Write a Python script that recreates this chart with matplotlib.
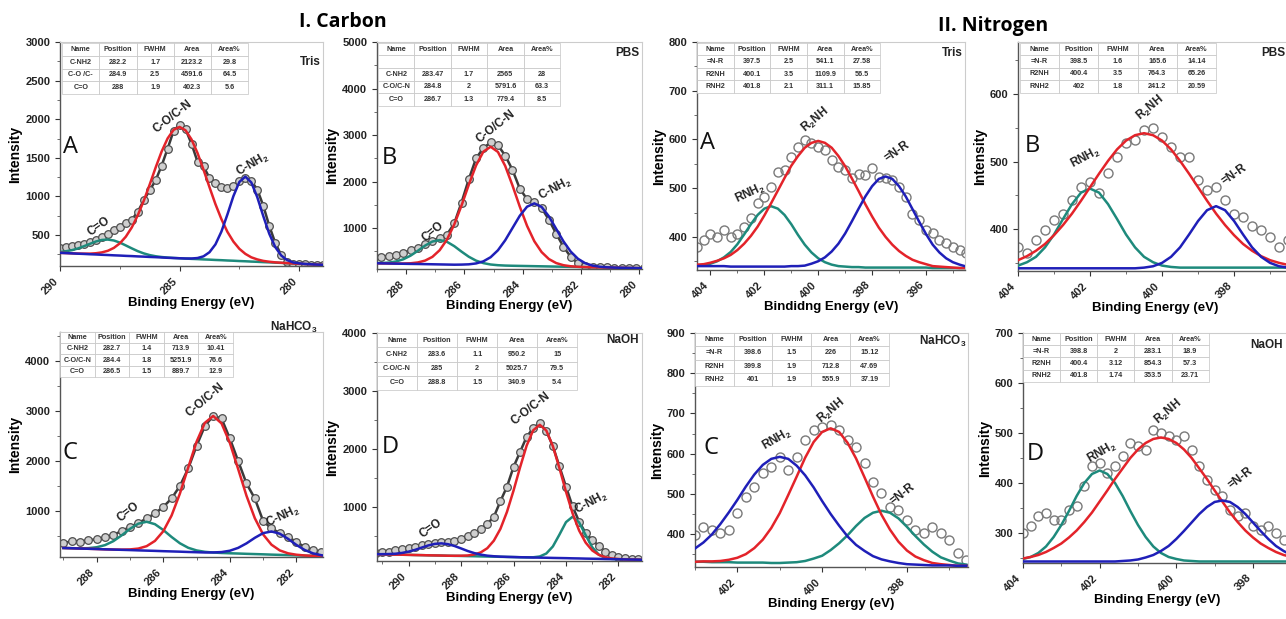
import numpy as np
import matplotlib.pyplot as plt
from matplotlib.ticker import MultipleLocator

plt.rcParams['font.family'] = ['Liberation Sans', 'DejaVu Sans']
plt.rcParams['font.weight'] = 'bold'
plt.rcParams['mathtext.fontset'] = 'custom'
plt.rcParams['mathtext.rm'] = 'Liberation Sans:bold'
plt.rcParams['mathtext.it'] = 'Liberation Sans:bold'
plt.rcParams['mathtext.bf'] = 'Liberation Sans:bold'
plt.rcParams['mathtext.default'] = 'rm'

RED = '#e3232a'
BLUE = '#1f1fb8'
TEAL = '#1e8a7c'

table_cols = ["Name", "Position", "FWHM", "Area", "Area%"]

# ---------------- I. Carbon, A (Tris) ----------------
ca_e0, ca_de = 290.0, 0.25
ca_data = [330, 345, 360, 372, 385, 410, 440, 470, 520, 560, 610, 660, 700, 800, 950,
           1080, 1210, 1400, 1620, 1850, 1930, 1870, 1680, 1450, 1390, 1240, 1180, 1120,
           1110, 1130, 1200, 1240, 1200, 1090, 880, 620, 400, 240, 150, 130, 125, 120, 115,
           112, 110]
ca_red = [270, 267, 264, 261, 260, 260, 265, 276, 297, 334, 393, 479, 599, 755, 943,
          1155, 1376, 1583, 1752, 1863, 1900, 1856, 1738, 1562, 1347, 1120, 900, 706,
          542, 416, 322, 257, 212, 185, 166, 155, 147, 142, 137, 132, 129, 125, 122, 118, 115]
ca_blue = [270, 267, 263, 259, 256, 252, 249, 245, 242, 238, 235, 231, 228, 224, 221,
           217, 214, 210, 206, 203, 200, 197, 197, 203, 225, 278, 380, 546, 767, 1004,
           1188, 1257, 1181, 990, 746, 518, 345, 236, 176, 146, 134, 126, 122, 118, 115]
ca_teal = [282, 291, 305, 327, 356, 387, 417, 437, 442, 430, 403, 366, 328, 292, 263,
           241, 226, 216, 209, 204, 200, 196, 192, 189, 185, 182, 178, 175, 171, 168,
           164, 161, 157, 154, 150, 147, 143, 140, 136, 132, 129, 125, 122, 118, 115]
ca_table = [["C-NH2", "282.2", "1.7", "2123.2", "29.8"],
            ["C-O /C-", "284.9", "2.5", "4591.6", "64.5"],
            ["C=O", "288", "1.9", "402.3", "5.6"]]

# ---------------- I. Carbon, B (PBS) ----------------
cb_e0, cb_de = 289.1, 0.25
cb_data = [370, 375, 400, 430, 470, 520, 580, 650, 730, 790, 860, 1100, 1550, 2050, 2500,
           2720, 2840, 2780, 2560, 2250, 1850, 1620, 1570, 1430, 1180, 880, 600, 380, 240,
           190, 170, 160, 155, 150, 148, 145, 142, 140]
cb_red = [245, 242, 239, 237, 238, 243, 261, 301, 381, 525, 752, 1077, 1485, 1933, 2348,
          2643, 2748, 2637, 2336, 1916, 1462, 1048, 717, 484, 334, 248, 202, 179, 168,
          161, 157, 155, 152, 149, 146, 143, 140, 137]
cb_blue = [245, 242, 239, 236, 233, 230, 228, 225, 222, 219, 216, 213, 215, 221, 240,
           285, 374, 523, 738, 1001, 1264, 1460, 1531, 1454, 1252, 983, 715, 494, 339,
           244, 193, 169, 157, 150, 146, 143, 140, 137]
cb_teal = [247, 249, 258, 282, 329, 407, 512, 624, 711, 742, 705, 612, 494, 384, 300,
           247, 217, 202, 194, 190, 187, 184, 181, 178, 175, 172, 169, 166, 163, 160,
           157, 155, 152, 149, 146, 143, 140, 137]
cb_table = [["", "", "", "", ""],
            ["C-NH2", "283.47", "1.7", "2565", "28"],
            ["C-O/C-N", "284.8", "2", "5791.6", "63.3"],
            ["C=O", "286.7", "1.3", "779.4", "8.5"]]

# ---------------- I. Carbon, C (NaHCO3) ----------------
cc_e0, cc_de = 289.0, 0.25
cc_data = [350, 400, 380, 420, 430, 470, 520, 600, 680, 760, 850, 950, 1080, 1250, 1500,
           1850, 2300, 2700, 2900, 2850, 2450, 2000, 1550, 1250, 800, 650, 560, 480, 380,
           280, 220, 180, 160]
cc_red = [260, 255, 249, 244, 239, 233, 229, 227, 231, 248, 296, 401, 594, 909, 1348,
          1870, 2384, 2763, 2900, 2752, 2363, 1839, 1305, 856, 531, 326, 211, 153, 125,
          110, 102, 96, 90]
cc_blue = [260, 255, 249, 244, 239, 233, 228, 223, 218, 212, 207, 202, 196, 191, 186,
           180, 175, 170, 171, 178, 205, 262, 352, 463, 557, 590, 546, 442, 321, 219,
           152, 115, 96]
cc_teal = [260, 256, 253, 257, 275, 317, 396, 512, 642, 746, 784, 736, 620, 480, 354,
           264, 211, 183, 169, 160, 154, 149, 143, 138, 133, 127, 122, 117, 112, 106,
           101, 96, 90]
cc_table = [["C-NH2", "282.7", "1.4", "713.9", "10.41"],
            ["C-O/C-N", "284.4", "1.8", "5251.9", "76.6"],
            ["C=O", "286.5", "1.5", "889.7", "12.9"]]

# ---------------- I. Carbon, D (NaOH) ----------------
cd_e0, cd_de = 291.25, 0.25
cd_data = [215, 220, 230, 255, 270, 290, 315, 345, 365, 385, 390, 400, 420, 450, 500,
           550, 620, 710, 830, 1100, 1350, 1690, 1950, 2210, 2360, 2450, 2310, 2050, 1700,
           1350, 1010, 750, 550, 430, 330, 230, 175, 135, 120, 110, 100, 95, 90]
cd_blue = [187, 188, 190, 195, 209, 231, 262, 301, 338, 365, 374, 360, 329, 287, 243,
           207, 180, 162, 152, 145, 141, 138, 135, 133, 130, 128, 126, 123, 121, 119,
           116, 114, 111, 109, 107, 104, 102, 100, 97, 95, 93, 90, 88]
cd_red = [187, 185, 183, 180, 178, 176, 173, 171, 168, 166, 164, 161, 160, 161, 165,
          182, 218, 290, 420, 623, 916, 1283, 1685, 2059, 2323, 2418, 2319, 2049, 1671,
          1264, 892, 595, 386, 252, 176, 134, 113, 104, 98, 95, 93, 90, 88]
cd_teal = [187, 185, 183, 180, 178, 176, 173, 171, 168, 166, 164, 161, 159, 157, 154,
           152, 149, 147, 145, 142, 140, 138, 135, 133, 134, 148, 199, 321, 525, 740,
           833, 735, 515, 307, 180, 124, 106, 101, 97, 95, 93, 90, 88]
cd_table = [["C-NH2", "283.6", "1.1", "950.2", "15"],
            ["C-O/C-N", "285", "2", "5025.7", "79.5"],
            ["C=O", "288.8", "1.5", "340.9", "5.4"]]

# ---------------- II. Nitrogen, A (Tris) ----------------
na_e0, na_de = 404.5, 0.25
na_data = [380, 394, 405, 400, 414, 400, 405, 421, 438, 469, 482, 503, 534, 537, 565,
           585, 599, 592, 585, 578, 558, 544, 537, 520, 530, 527, 541, 523, 520, 517,
           503, 482, 448, 435, 414, 407, 394, 387, 380, 373, 366]
na_red = [343, 344, 347, 351, 356, 363, 373, 386, 402, 421, 444, 469, 495, 521, 546,
          566, 583, 593, 597, 593, 583, 566, 545, 520, 494, 467, 442, 419, 400, 384,
          371, 361, 353, 348, 344, 340, 339, 338, 337, 336, 336]
na_teal = [341, 342, 345, 350, 358, 369, 385, 405, 426, 445, 458, 463, 458, 445, 426,
           404, 384, 368, 356, 348, 343, 340, 339, 338, 338, 337, 337, 337, 337, 337,
           337, 337, 337, 337, 337, 336, 336, 336, 336, 336, 336]
na_blue = [340, 340, 340, 340, 340, 339, 339, 339, 339, 339, 339, 339, 339, 339, 340,
           340, 341, 345, 350, 358, 370, 386, 407, 432, 458, 483, 504, 519, 524, 519,
           504, 483, 457, 431, 406, 384, 368, 356, 348, 343, 339]
na_table = [["=N-R", "397.5", "2.5", "541.1", "27.58"],
            ["R2NH", "400.1", "3.5", "1109.9", "56.5"],
            ["RNH2", "401.8", "2.1", "311.1", "15.85"]]

# ---------------- II. Nitrogen, B (PBS) ----------------
nb_e0, nb_de = 404.0, 0.25
nb_data = [374, 364, 384, 399, 413, 423, 443, 463, 470, 453, 483, 507, 527, 532, 547,
           549, 537, 522, 507, 507, 473, 458, 463, 443, 423, 418, 404, 399, 389, 374,
           384, 380]
nb_red = [354, 360, 368, 378, 391, 406, 423, 442, 462, 482, 501, 518, 531, 539, 542,
          539, 531, 518, 501, 482, 462, 442, 423, 406, 391, 378, 368, 360, 354, 350,
          347, 345]
nb_teal = [346, 351, 359, 373, 392, 415, 437, 454, 460, 454, 437, 415, 392, 373, 359,
           351, 346, 344, 343, 343, 343, 343, 343, 343, 343, 343, 343, 343, 343, 343,
           343, 343]
nb_blue = [342, 342, 342, 342, 342, 342, 342, 342, 342, 342, 342, 342, 342, 342, 343,
           345, 350, 359, 373, 392, 412, 428, 434, 428, 412, 392, 373, 359, 350, 345,
           343, 342]
nb_table = [["=N-R", "398.5", "1.6", "165.6", "14.14"],
            ["R2NH", "400.4", "3.5", "764.3", "65.26"],
            ["RNH2", "402", "1.8", "241.2", "20.59"]]

# ---------------- II. Nitrogen, C (NaHCO3) ----------------
nc_e0, nc_de = 403.0, 0.2
nc_data = [398, 418, 410, 402, 410, 452, 493, 518, 551, 567, 592, 559, 592, 634, 659,
           667, 671, 659, 634, 617, 576, 530, 501, 468, 460, 435, 410, 402, 418, 402,
           385, 352, 335]
nc_blue = [364, 379, 399, 425, 454, 485, 518, 548, 572, 587, 592, 587, 570, 546, 516,
           482, 450, 421, 394, 373, 358, 345, 337, 332, 328, 325, 324, 323, 322, 322,
           322, 321, 321]
nc_red = [331, 332, 332, 333, 336, 341, 350, 365, 386, 415, 452, 497, 543, 590, 629,
          654, 663, 654, 627, 588, 541, 493, 448, 411, 381, 359, 344, 335, 328, 325,
          323, 321, 321]
nc_teal = [331, 331, 330, 330, 330, 329, 329, 329, 329, 328, 328, 329, 330, 333, 339,
           346, 360, 377, 397, 420, 440, 453, 458, 453, 439, 418, 395, 374, 356, 342,
           334, 327, 324]
nc_table = [["=N-R", "398.6", "1.5", "226", "15.12"],
            ["R2NH", "399.8", "1.9", "712.8", "47.69"],
            ["RNH2", "401", "1.9", "555.9", "37.19"]]

# ---------------- II. Nitrogen, D (NaOH) ----------------
nd_e0, nd_de = 404.0, 0.2
nd_data = [299, 313, 333, 339, 326, 326, 346, 353, 393, 433, 439, 419, 433, 453, 479,
           473, 466, 506, 499, 493, 486, 493, 466, 433, 406, 386, 373, 346, 333, 339,
           313, 306, 313, 299, 286, 273]
nd_red = [249, 252, 256, 262, 270, 279, 291, 305, 322, 341, 363, 385, 408, 429, 450,
          467, 480, 488, 491, 488, 480, 467, 450, 429, 408, 385, 363, 341, 322, 305,
          291, 279, 270, 262, 256, 252]
nd_teal = [248, 252, 260, 273, 292, 316, 344, 374, 400, 418, 425, 418, 400, 374, 344,
           316, 292, 273, 260, 252, 248, 245, 244, 243, 243, 243, 243, 243, 243, 243,
           243, 243, 243, 243, 243, 243]
nd_blue = [243, 243, 243, 243, 243, 243, 243, 243, 243, 243, 243, 243, 243, 244, 245,
           247, 251, 256, 264, 274, 288, 304, 321, 338, 352, 362, 365, 362, 352, 338,
           321, 304, 288, 274, 264, 256]
nd_table = [["=N-R", "398.8", "2", "283.1", "18.9"],
            ["R2NH", "400.4", "3.12", "854.3", "57.3"],
            ["RNH2", "401.8", "1.74", "353.5", "23.71"]]


panels = [
    dict(rect=[0.0467, 0.5703, 0.2045, 0.3619], e0=ca_e0, de=ca_de, data=ca_data,
         red=ca_red, blue=ca_blue, teal=ca_teal, carbon=True,
         xlim=(290, 279), ylim=(100, 3000), xt=(5, 2.5), yt=(500, 250),
         letter=('A', 0.011, 0.531), sample=('Tris', 0.99, 0.912),
         peaks=[('C-O/C-N', 0.43, 0.665, 38), ('C-NH$_2$', 0.734, 0.451, 30), ('C=O', 0.148, 0.174, 35)],
         table=ca_table, tbox=[0.008, 0.768, 0.707, 0.227], xlabel='Binding Energy (eV)'),
    dict(rect=[0.2932, 0.5654, 0.2061, 0.3667], e0=cb_e0, de=cb_de, data=cb_data,
         red=cb_red, blue=cb_blue, teal=cb_teal, carbon=True,
         xlim=(289, 279.9), ylim=(120, 5000), xt=(2, 1), yt=(1000, 500),
         letter=('B', 0.018, 0.49), sample=('PBS', 0.99, 0.95),
         peaks=[('C-O/C-N', 0.448, 0.627, 38), ('C-NH$_2$', 0.672, 0.352, 28), ('C=O', 0.212, 0.164, 40)],
         table=cb_table, tbox=[0.004, 0.72, 0.686, 0.276], xlabel='Binding Energy (eV)'),
    dict(rect=[0.542, 0.5638, 0.2084, 0.3683], e0=na_e0, de=na_de, data=na_data,
         red=na_red, blue=na_blue, teal=na_teal, carbon=False,
         xlim=(404.5, 394.55), ylim=(332, 800), xt=(2, 1), yt=(100, 50),
         letter=('A', 0.011, 0.555), sample=('Tris', 0.99, 0.95),
         peaks=[('R$_2$NH', 0.44, 0.658, 40), ('=N-R', 0.747, 0.519, 35), ('RNH$_2$', 0.198, 0.336, 25)],
         table=na_table, tbox=[0.001, 0.778, 0.682, 0.218], xlabel='Bindidng Energy (eV)'),
    dict(rect=[0.7916, 0.5622, 0.2131, 0.37], e0=nb_e0, de=nb_de, data=nb_data,
         red=nb_red, blue=nb_blue, teal=nb_teal, carbon=False,
         xlim=(404, 396.39), ylim=(338, 677), xt=(2, 1), yt=(100, 50),
         letter=('B', 0.026, 0.544), sample=('PBS', 0.975, 0.95),
         peaks=[('R$_2$NH', 0.484, 0.71, 40), ('RNH$_2$', 0.247, 0.496, 28), ('=N-R', 0.788, 0.419, 35)],
         table=nb_table, tbox=[0.007, 0.779, 0.716, 0.217], xlabel='Binding Energy (eV)'),
    dict(rect=[0.0467, 0.1002, 0.2045, 0.3635], e0=cc_e0, de=cc_de, data=cc_data,
         red=cc_red, blue=cc_blue, teal=cc_teal, carbon=True,
         xlim=(289.1, 281.2), ylim=(80, 4580), xt=(2, 1), yt=(1000, 500),
         letter=('C', 0.011, 0.462), sample=('NaHCO$_3$', 0.98, 1.02),
         peaks=[('C-O/C-N', 0.551, 0.698, 40), ('C-NH$_2$', 0.849, 0.179, 25), ('C=O', 0.26, 0.199, 38)],
         table=cc_table, tbox=[0.0, 0.80, 0.658, 0.20], xlabel='Binding Energy (eV)'),
    dict(rect=[0.2932, 0.0937, 0.2061, 0.3683], e0=cd_e0, de=cd_de, data=cd_data,
         red=cd_red, blue=cd_blue, teal=cd_teal, carbon=True,
         xlim=(291.2, 281.1), ylim=(70, 4000), xt=(2, 1), yt=(1000, 500),
         letter=('D', 0.018, 0.50), sample=('NaOH', 0.986, 0.97),
         peaks=[('C-O/C-N', 0.58, 0.67, 38), ('C-NH$_2$', 0.81, 0.253, 28), ('C=O', 0.203, 0.143, 35)],
         table=cd_table, tbox=[0.0, 0.75, 0.755, 0.25], xlabel='Binding Energy (eV)'),
    dict(rect=[0.5404, 0.084, 0.2123, 0.378], e0=nc_e0, de=nc_de, data=nc_data,
         red=nc_red, blue=nc_blue, teal=nc_teal, carbon=False,
         xlim=(403, 396.56), ylim=(318, 900), xt=(2, 1), yt=(100, 50),
         letter=('C', 0.03, 0.508), sample=('NaHCO$_3$', 0.995, 0.963),
         peaks=[('R$_2$NH', 0.50, 0.668, 40), ('RNH$_2$', 0.30, 0.547, 30), ('=N-R', 0.759, 0.312, 38)],
         table=nc_table, tbox=[0.0, 0.773, 0.71, 0.227], xlabel='Binding Energy (eV)'),
    dict(rect=[0.7955, 0.0905, 0.2092, 0.3716], e0=nd_e0, de=nd_de, data=nd_data,
         red=nd_red, blue=nd_blue, teal=nd_teal, carbon=False,
         xlim=(404, 396.98), ylim=(240, 700), xt=(2, 1), yt=(100, 50),
         letter=('D', 0.013, 0.474), sample=('NaOH', 0.965, 0.948),
         peaks=[('R$_2$NH', 0.54, 0.658, 40), ('RNH$_2$', 0.293, 0.481, 30), ('=N-R', 0.81, 0.368, 38)],
         table=nd_table, tbox=[0.0, 0.788, 0.69, 0.212], xlabel='Binding Energy (eV)'),
]

fig = plt.figure(figsize=(12.86, 6.19), dpi=100)

for p in panels:
    ax = fig.add_axes(p['rect'])
    x = p['e0'] - p['de'] * np.arange(len(p['data']))

    # measured spectrum
    if p['carbon']:
        ax.plot(x, p['data'], color='#3a3a3a', lw=1.8, zorder=2)
        ax.plot(x, p['data'], 'o', ms=5.5, mfc='#cfcfcf', mec='#4e4e4e', mew=0.9, zorder=2)
    else:
        ax.plot(x, p['data'], 'o', ms=6.5, mfc='none', mec='#7a7a7a', mew=1.0, zorder=2)

    # fitted components
    ax.plot(x, p['teal'], color=TEAL, lw=1.8, zorder=3)
    ax.plot(x, p['red'], color=RED, lw=1.8, zorder=3)
    ax.plot(x, p['blue'], color=BLUE, lw=1.8, zorder=3)

    ax.set_xlim(*p['xlim'])
    ax.set_ylim(*p['ylim'])
    ax.xaxis.set_major_locator(MultipleLocator(p['xt'][0]))
    ax.xaxis.set_minor_locator(MultipleLocator(p['xt'][1]))
    ax.yaxis.set_major_locator(MultipleLocator(p['yt'][0]))
    ax.yaxis.set_minor_locator(MultipleLocator(p['yt'][1]))
    ax.tick_params(which='major', direction='out', length=3.5, width=0.8, labelsize=8,
                   colors='#333333', labelcolor='#222222')
    ax.tick_params(which='minor', direction='out', length=2, width=0.6, colors='#555555')
    for lab in ax.get_xticklabels():
        lab.set_rotation(45)
        lab.set_ha('right')
        lab.set_va('top')
        lab.set_fontweight('bold')
    for lab in ax.get_yticklabels():
        lab.set_fontweight('bold')

    for side in ('left', 'bottom'):
        ax.spines[side].set_color('#555555')
        ax.spines[side].set_linewidth(1.0)
    for side in ('top', 'right'):
        ax.spines[side].set_color('#cccccc')
        ax.spines[side].set_linewidth(0.8)

    ax.set_ylabel('Intensity', fontsize=10, fontweight='bold', labelpad=2)
    ax.set_xlabel(p['xlabel'], fontsize=9.5, fontweight='bold', labelpad=1)

    t, fx, fy = p['letter']
    ax.text(fx, fy, t, transform=ax.transAxes, ha='left', va='center',
            fontsize=17, fontweight='normal', family=['Open Sans', 'DejaVu Sans'], color='#111111')
    t, fx, fy = p['sample']
    ax.text(fx, fy, t, transform=ax.transAxes, ha='right', va='center',
            fontsize=8.5, fontweight='bold', color='#222222')
    for t, fx, fy, rot in p['peaks']:
        ax.text(fx, fy, t, transform=ax.transAxes, ha='center', va='center',
                rotation=rot, fontsize=8.5, fontweight='bold', color='#222222')

    tb = ax.table(cellText=p['table'], colLabels=table_cols, cellLoc='center',
                  bbox=p['tbox'], zorder=4)
    tb.auto_set_font_size(False)
    tb.set_fontsize(5.2)
    for cell in tb.get_celld().values():
        cell.set_edgecolor('#c4c4c4')
        cell.set_linewidth(0.5)
        cell.get_text().set_fontweight('bold')
        cell.get_text().set_color('#333333')

fig.text(343 / 1286, 1 - 22 / 619, 'I. Carbon', ha='center', va='center',
         fontsize=14, fontweight='bold', family=['Open Sans', 'DejaVu Sans'])
fig.text(993 / 1286, 1 - 26 / 619, 'II. Nitrogen', ha='center', va='center',
         fontsize=14, fontweight='bold', family=['Open Sans', 'DejaVu Sans'])

fig.savefig('out.png', dpi=100)
